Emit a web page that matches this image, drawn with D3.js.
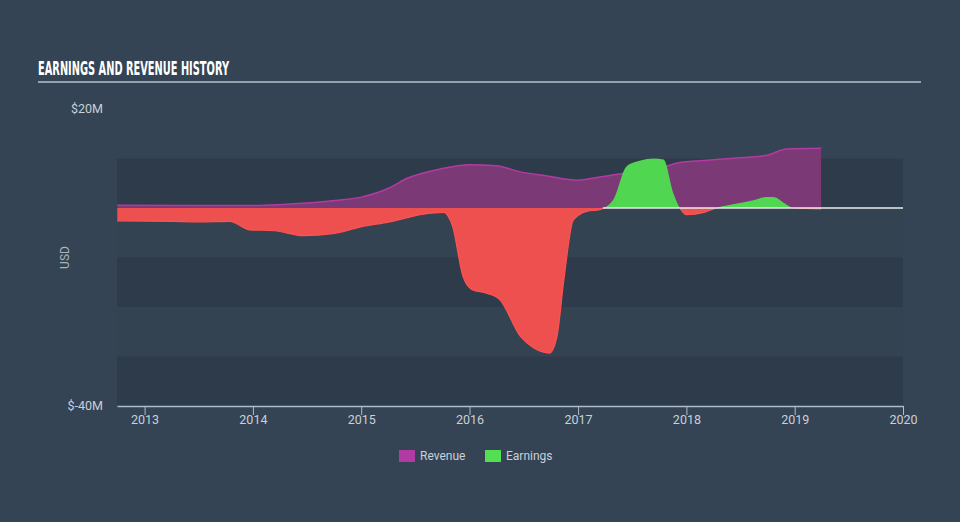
<!DOCTYPE html>
<html>
<head>
<meta charset="utf-8">
<script src="https://cdn.jsdelivr.net/npm/d3@7"></script>
<style>
  html, body { margin: 0; padding: 0; background: #344454; }
  svg { display: block; }
</style>
</head>
<body>
<svg id="chart" width="960" height="522"></svg>
<script>
// ---- data (values in millions USD) ----
const revenueDates = ["2012-10-01","2013-06-30","2013-12-31","2014-06-30","2014-10-15","2014-12-31","2015-04-07","2015-06-01","2015-09-25","2016-01-01","2016-04-01","2016-06-20","2016-09-15","2016-12-31","2017-03-15","2017-06-15","2017-09-15","2017-12-10","2018-03-01","2018-06-20","2018-09-25","2018-12-05","2019-03-31"];
const revenueValues = [0.55,0.5,0.5,1.0,1.55,2.2,4.1,5.9,7.9,8.75,8.55,7.3,6.5,5.6,6.26,7.07,7.7,9.2,9.6,10.1,10.6,11.9,12.05];

const earningsDates = ["2012-10-01","2013-04-07","2013-07-05","2013-10-15","2013-12-20","2014-03-15","2014-06-20","2014-09-27","2014-12-31","2015-04-07","2015-07-25","2015-10-05","2015-11-05","2015-12-10","2016-01-10","2016-02-28","2016-04-12","2016-06-20","2016-08-05","2016-09-27","2016-10-22","2016-11-14","2016-12-16","2017-01-30","2017-03-15","2017-04-30","2017-06-13","2017-07-30","2017-09-13","2017-10-16","2017-11-18","2017-12-10","2018-01-01","2018-03-01","2018-04-12","2018-06-20","2018-08-15","2018-09-27","2018-10-20","2018-12-05","2018-12-28","2019-03-31"];
const earningsValues = [-2.6,-2.7,-2.8,-2.7,-4.4,-4.6,-5.6,-5.2,-3.8,-2.8,-1.3,-0.9,-3.7,-13.8,-16.5,-17.2,-18.5,-25.9,-28.3,-29.3,-25.9,-14.5,-2.4,-0.67,-0.33,1.7,8.4,9.6,10.0,9.8,3.0,0,-1.35,-0.9,0,0.9,1.55,2.2,2.2,0.67,0,-0.2];

const xTickYears = [2013,2014,2015,2016,2017,2018,2019,2020];
const yTickValues = [20,-40];
const bandEdges = [10,0,-10,-20,-30,-40];
const xDomain = ["2012-09-30","2020-01-01"];
const yDomain = [-40,20];
const zeroLineStart = "2017-03-25";
const legendItems = ["Revenue","Earnings"];

// ---- setup ----
const parse = d3.timeParse("%Y-%m-%d");
const revenue = revenueDates.map((d,i)=>({date:parse(d), v:revenueValues[i]}));
const earnings = earningsDates.map((d,i)=>({date:parse(d), v:earningsValues[i]}));

const svg = d3.select("#chart");
const W = 960, H = 522;
const x = d3.scaleTime().domain(xDomain.map(parse)).range([117, 903]);
const y = d3.scaleLinear().domain(yDomain).range([406, 109]);

const colors = {
  bg:"#344454", bandDark:"#2e3b4a", bandLight:"#334352",
  revFill:"#7b3975", revStroke:"#b23ba3",
  red:"#ee5050", redStroke:"#ff5252",
  green:"#50d650",
  axis:"#aebccb", text:"#c9d0d8"
};

svg.append("rect").attr("width",W).attr("height",H).attr("fill",colors.bg);

// title
svg.append("text")
  .attr("x",38).attr("y",75)
  .attr("fill","#ffffff")
  .attr("font-family","'Liberation Sans Narrow','DejaVu Sans Condensed',sans-serif")
  .attr("font-weight","bold")
  .attr("font-size",19)
  .attr("textLength",191).attr("lengthAdjust","spacingAndGlyphs")
  .text("EARNINGS AND REVENUE HISTORY");
svg.append("line").attr("x1",38).attr("x2",921).attr("y1",82).attr("y2",82)
  .attr("stroke","#b9c0c8").attr("stroke-width",1.6);

// bands
const bands = d3.pairs(bandEdges);
svg.append("g").selectAll("rect").data(bands).join("rect")
  .attr("x",x.range()[0]).attr("width",x.range()[1]-x.range()[0])
  .attr("y",d=>y(d[0])).attr("height",d=>y(d[1])-y(d[0]))
  .attr("fill",(d,i)=> i%2===0 ? colors.bandDark : colors.bandLight);

// clip paths
const defs = svg.append("defs");
defs.append("clipPath").attr("id","above").append("rect")
  .attr("x",0).attr("width",W).attr("y",0).attr("height",y(0));
defs.append("clipPath").attr("id","below").append("rect")
  .attr("x",0).attr("width",W).attr("y",y(0)).attr("height",H-y(0));

const curve = d3.curveMonotoneX;

// revenue
const revArea = d3.area().x(d=>x(d.date)).y0(y(0)).y1(d=>y(d.v)).curve(curve);
const revLine = d3.line().x(d=>x(d.date)).y(d=>y(d.v)).curve(curve);
svg.append("path").datum(revenue).attr("d",revArea).attr("fill",colors.revFill);
svg.append("path").datum(revenue).attr("d",revLine).attr("fill","none")
  .attr("stroke",colors.revStroke).attr("stroke-width",1.5);

// earnings
const earnArea = d3.area().x(d=>x(d.date)).y0(y(0)).y1(d=>y(d.v)).curve(curve);
const earnLine = d3.line().x(d=>x(d.date)).y(d=>y(d.v)).curve(curve);
svg.append("path").datum(earnings).attr("d",earnArea).attr("fill",colors.green).attr("clip-path","url(#above)");
svg.append("path").datum(earnings).attr("d",earnArea).attr("fill",colors.red).attr("clip-path","url(#below)");
svg.append("path").datum(earnings).attr("d",earnLine).attr("fill","none")
  .attr("stroke",colors.redStroke).attr("stroke-width",1.2).attr("clip-path","url(#below)");

// zero line
svg.append("line")
  .attr("x1",x(parse(zeroLineStart))).attr("x2",x.range()[1])
  .attr("y1",y(0)).attr("y2",y(0))
  .attr("stroke","#e8ecef").attr("stroke-width",1.5);

// x axis
const xAxis = d3.axisBottom(x)
  .tickValues(xTickYears.map(yr=>new Date(yr,0,1)))
  .tickFormat(d3.timeFormat("%Y"))
  .tickSize(9).tickSizeOuter(0);
const gx = svg.append("g").attr("transform",`translate(0,${y(-40)})`).call(xAxis);
gx.select(".domain").attr("stroke",colors.axis).attr("stroke-width",1.5);
gx.selectAll(".tick line").attr("stroke",colors.axis).attr("stroke-width",1);
gx.selectAll(".tick text").attr("fill",colors.text)
  .attr("font-family","Roboto, 'Open Sans', sans-serif").attr("font-size",12.5)
  .attr("y",9.5).attr("dy","0.71em");

// y labels
svg.append("g").selectAll("text").data(yTickValues).join("text")
  .attr("x",103).attr("y",d=>y(d)).attr("dy","0.35em")
  .attr("text-anchor","end")
  .attr("fill",colors.text)
  .attr("font-family","Roboto, 'Open Sans', sans-serif").attr("font-size",12.5)
  .text(d=>"$"+d+"M");

svg.append("text")
  .attr("transform",`translate(69,${(y(20)+y(-40))/2}) rotate(-90)`)
  .attr("text-anchor","middle")
  .attr("fill","#aab4be")
  .attr("font-family","Roboto, 'Open Sans', sans-serif").attr("font-size",12)
  .text("USD");

// legend
const legColors = [colors.revStroke, "#52e052"];
const leg = svg.append("g").selectAll("g").data(legendItems).join("g")
  .attr("transform",(d,i)=>`translate(${399 + i*86},450)`);
leg.append("rect").attr("width",16).attr("height",12).attr("fill",(d,i)=>legColors[i]);
leg.append("text").attr("x",21).attr("y",6).attr("dy","0.36em")
  .attr("fill",colors.text)
  .attr("font-family","Roboto, 'Open Sans', sans-serif").attr("font-size",12)
  .text(d=>d);
</script>
</body>
</html>
